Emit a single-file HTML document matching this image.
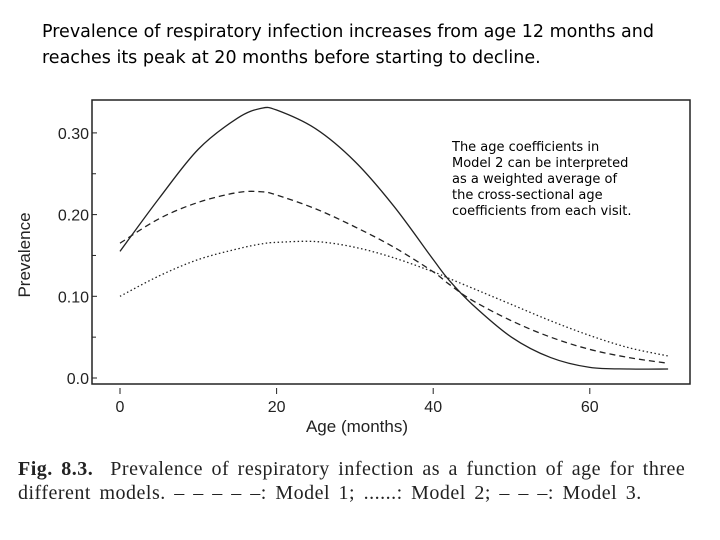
<!DOCTYPE html>
<html><head><meta charset="utf-8"><style>
body{margin:0;background:#fff;width:720px;height:540px;overflow:hidden;position:relative}
.t{position:absolute;font-family:"DejaVu Sans",sans-serif;font-size:17.5px;color:#000;left:42px;line-height:26px;white-space:nowrap}
.c{position:absolute;left:18px;font-family:"Liberation Serif",serif;font-size:20px;color:#222;white-space:nowrap;letter-spacing:0.5px;word-spacing:3px}
</style></head><body>
<div class="t" style="top:19px">Prevalence of respiratory infection increases from age 12 months and<br>reaches its peak at 20 months before starting to decline.</div>
<svg width="720" height="540" style="position:absolute;left:0;top:0">
<rect x="92" y="100" width="598" height="284" fill="none" stroke="#222" stroke-width="1.5"/>
<g id="axes" font-family="Liberation Sans,sans-serif" font-size="16" fill="#222"></g>
<g id="series"></g>
<text x="30" y="255" transform="rotate(-90 30 255)" text-anchor="middle" font-family="Liberation Sans,sans-serif" font-size="17" fill="#222">Prevalence</text>
<text x="357" y="432" text-anchor="middle" font-family="Liberation Sans,sans-serif" font-size="17" fill="#222">Age (months)</text>
<g font-family="DejaVu Sans,sans-serif" font-size="13" fill="#000">
<text x="452" y="151">The age coefficients in</text>
<text x="452" y="167">Model 2 can be interpreted</text>
<text x="452" y="183">as a weighted average of</text>
<text x="452" y="199">the cross-sectional age</text>
<text x="452" y="215">coefficients from each visit.</text>
</g>
</svg>
<div class="c" style="top:458px"><b>Fig. 8.3.</b>&nbsp; Prevalence of respiratory infection as a function of age for three</div>
<div class="c" style="top:482px">different models. – – – – –: Model 1; ......: Model 2; – – –: Model 3.</div>
<script>
const ages=[0,5,10,15,18,20,25,30,35,40,42,45,50,55,60,65,70];
const model1=[0.155,0.22,0.28,0.318,0.33,0.328,0.305,0.265,0.21,0.145,0.12,0.09,0.05,0.025,0.013,0.011,0.011];
const model2=[0.165,0.195,0.215,0.227,0.228,0.224,0.207,0.185,0.16,0.13,0.115,0.095,0.07,0.05,0.035,0.025,0.018];
const model3=[0.10,0.125,0.145,0.158,0.164,0.166,0.167,0.16,0.147,0.13,0.122,0.11,0.09,0.07,0.052,0.037,0.027];
const xTicks=[0,20,40,60];
const yTicks=[0,0.1,0.2,0.3];
const yTickLabels=["0.0","0.10","0.20","0.30"];
const xs=v=>120+v*7.83, ys=v=>378-v*817;
const NS="http://www.w3.org/2000/svg";
const ax=document.getElementById('axes'), sg=document.getElementById('series');
function mk(tag,at,parent){const e=document.createElementNS(NS,tag);for(const k in at)e.setAttribute(k,at[k]);parent.appendChild(e);return e;}
xTicks.forEach(t=>{
 const l=mk('line',{x1:xs(t),x2:xs(t),y1:388,y2:394,stroke:'#222'},ax);
 
 
 const tx=mk('text',{x:xs(t),y:412,'text-anchor':'middle'},ax);tx.textContent=t;
 
 
});
yTicks.forEach((t,i)=>{
 const l=mk('line',{x1:92,x2:97,y1:ys(t),y2:ys(t),stroke:'#222'},ax);
 
 
 const tx=mk('text',{x:89,y:ys(t)+6,'text-anchor':'end'},ax);tx.textContent=yTickLabels[i];
 
 
});
[0.05,0.15,0.25].forEach(t=>{mk('line',{x1:92,x2:96,y1:ys(t),y2:ys(t),stroke:'#222'},ax);});
function path(vals){let d='';const p=ages.map((a,i)=>[xs(a),ys(vals[i])]);
 d='M'+p[0][0]+','+p[0][1];
 for(let i=0;i<p.length-1;i++){const p0=p[i-1]||p[i],p1=p[i],p2=p[i+1],p3=p[i+2]||p2;
  d+=' C'+(p1[0]+(p2[0]-p0[0])/6)+','+(p1[1]+(p2[1]-p0[1])/6)+' '+(p2[0]-(p3[0]-p1[0])/6)+','+(p2[1]-(p3[1]-p1[1])/6)+' '+p2[0]+','+p2[1];}
 return d;}
const s1=mk('path',{d:path(model1),fill:'none',stroke:'#222','stroke-width':1.3},sg);


const s2=mk('path',{d:path(model2),fill:'none',stroke:'#222','stroke-width':1.3,'stroke-dasharray':'6,4'},sg);


const s3=mk('path',{d:path(model3),fill:'none',stroke:'#222','stroke-width':1.3,'stroke-dasharray':'1.5,2.5'},sg);


</script>
</body></html>
